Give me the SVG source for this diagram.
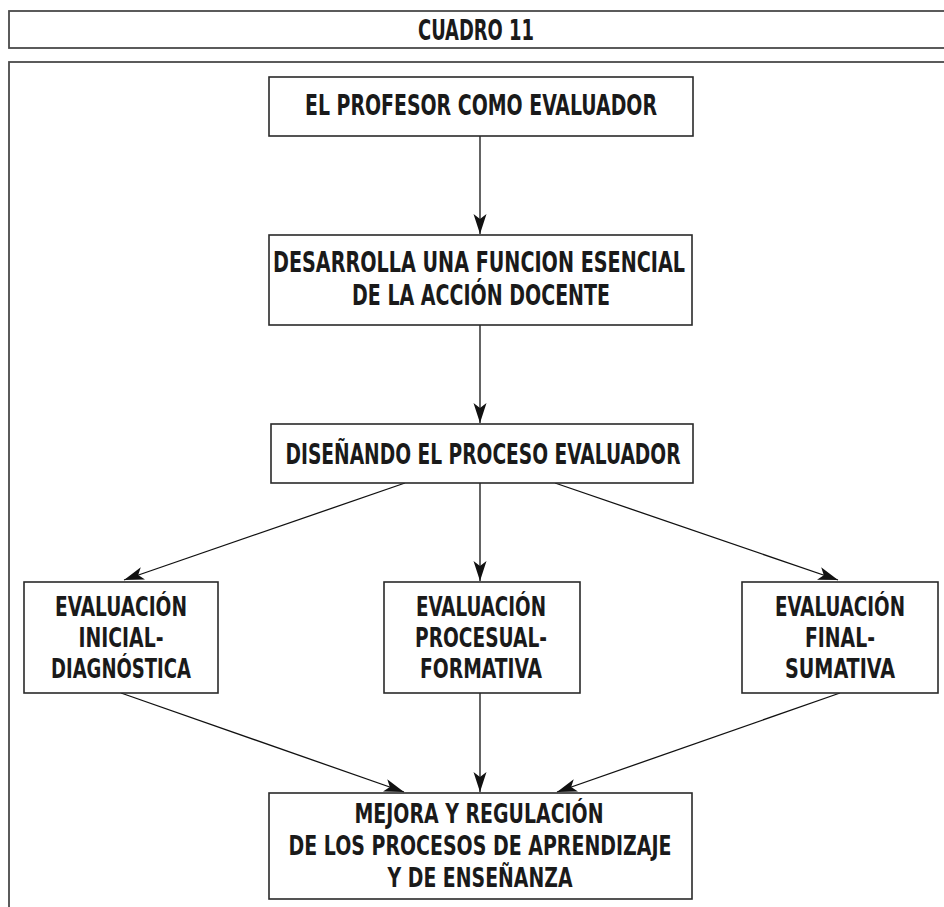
<svg xmlns="http://www.w3.org/2000/svg" width="944" height="907" viewBox="0 0 944 907">
<style>
.frame{fill:#fff;stroke:#4a4a4a;stroke-width:1.8}
.box{fill:#fff;stroke:#2a2a2a;stroke-width:1.6}
.t{font-family:"Liberation Sans Narrow","DejaVu Sans Condensed","Liberation Sans",sans-serif;font-weight:bold;font-size:28px;fill:#1a1a1a;text-anchor:middle}
.s{font-size:26px}
.m{font-size:27px}
.c{stroke:#111;stroke-width:1.3;fill:none;marker-end:url(#ah)}
</style>
<defs>
<marker id="ah" markerUnits="userSpaceOnUse" markerWidth="22" markerHeight="14" refX="20" refY="6.5" orient="auto">
<path d="M0,0 L20,6.5 L0,13 L5,6.5 z" fill="#111"/>
</marker>
</defs>
<rect width="944" height="907" fill="#fff"/>
<g id="title">
<rect class="frame" x="9" y="11" width="950" height="37"/>
<text class="t" x="476" y="40" textLength="116" lengthAdjust="spacingAndGlyphs">CUADRO 11</text>
</g>
<rect id="frame" class="frame" x="9" y="62" width="950" height="860"/>
<g id="connectors">
<line class="c" x1="480" y1="136" x2="480" y2="234"/>
<line class="c" x1="480" y1="325" x2="480" y2="423"/>
<line class="c" x1="405" y1="483" x2="124" y2="580"/>
<line class="c" x1="480" y1="483" x2="480" y2="581"/>
<line class="c" x1="555" y1="483" x2="838" y2="580"/>
<line class="c" x1="121" y1="693" x2="404" y2="792"/>
<line class="c" x1="480" y1="693" x2="480" y2="792"/>
<line class="c" x1="840" y1="693" x2="557" y2="792"/>
</g>
<g id="n1">
<rect class="box" x="269" y="77" width="424" height="59"/>
<text class="t" x="481" y="115" textLength="352" lengthAdjust="spacingAndGlyphs">EL PROFESOR COMO EVALUADOR</text>
</g>
<g id="n2">
<rect class="box" x="269" y="235" width="423" height="90"/>
<text class="t" x="479" y="272" textLength="412" lengthAdjust="spacingAndGlyphs">DESARROLLA UNA FUNCION ESENCIAL</text>
<text class="t" x="481" y="305" textLength="258" lengthAdjust="spacingAndGlyphs">DE LA ACCIÓN DOCENTE</text>
</g>
<g id="n3">
<rect class="box" x="271" y="424" width="422" height="59"/>
<text class="t" x="483" y="464" textLength="395" lengthAdjust="spacingAndGlyphs">DISEÑANDO EL PROCESO EVALUADOR</text>
</g>
<g id="n4">
<rect class="box" x="24" y="582" width="194" height="111"/>
<text class="t s" x="121" y="616" textLength="132" lengthAdjust="spacingAndGlyphs">EVALUACIÓN</text>
<text class="t s" x="121" y="647" textLength="85" lengthAdjust="spacingAndGlyphs">INICIAL-</text>
<text class="t s" x="121" y="678" textLength="140" lengthAdjust="spacingAndGlyphs">DIAGNÓSTICA</text>
</g>
<g id="n5">
<rect class="box" x="384" y="582" width="196" height="111"/>
<text class="t s" x="481" y="616" textLength="130" lengthAdjust="spacingAndGlyphs">EVALUACIÓN</text>
<text class="t s" x="481" y="647" textLength="132" lengthAdjust="spacingAndGlyphs">PROCESUAL-</text>
<text class="t s" x="481" y="678" textLength="122" lengthAdjust="spacingAndGlyphs">FORMATIVA</text>
</g>
<g id="n6">
<rect class="box" x="742" y="582" width="196" height="111"/>
<text class="t s" x="840" y="616" textLength="130" lengthAdjust="spacingAndGlyphs">EVALUACIÓN</text>
<text class="t s" x="840" y="647" textLength="70" lengthAdjust="spacingAndGlyphs">FINAL-</text>
<text class="t s" x="840" y="678" textLength="110" lengthAdjust="spacingAndGlyphs">SUMATIVA</text>
</g>
<g id="n7">
<rect class="box" x="269" y="793" width="423" height="106"/>
<text class="t m" x="479" y="823" textLength="249" lengthAdjust="spacingAndGlyphs">MEJORA Y REGULACIÓN</text>
<text class="t m" x="480" y="855" textLength="383" lengthAdjust="spacingAndGlyphs">DE LOS PROCESOS DE APRENDIZAJE</text>
<text class="t m" x="480" y="887" textLength="185" lengthAdjust="spacingAndGlyphs">Y DE ENSEÑANZA</text>
</g>
</svg>
